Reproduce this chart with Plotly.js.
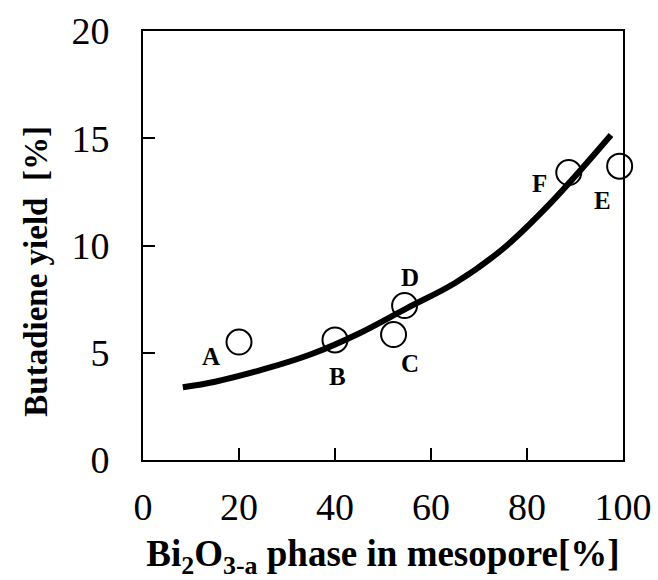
<!DOCTYPE html>
<html>
<head>
<meta charset="utf-8">
<script src="https://cdn.plot.ly/plotly-3.0.1.min.js"></script>
<style>
  html, body { margin: 0; padding: 0; background: #fff; }
  #chart { width: 658px; height: 580px; }
</style>
</head>
<body>
<div id="chart"></div>
<script>
// Measured samples: Bi2O3-a fraction in mesopores vs. butadiene yield
const sampleNames = ['A', 'B', 'C', 'D', 'F', 'E'];
const phaseFraction = [20, 40, 52.2, 54.5, 88.7, 99.3];
const butadieneYield = [5.5, 5.6, 5.85, 7.2, 13.4, 13.7];

// Trend curve traced through the samples
const trendX = [8.3, 15, 25, 35, 45, 55, 65, 75, 85, 97.5];
const trendY = [3.39, 3.65, 4.22, 4.93, 5.9, 7.08, 8.25, 9.85, 12.0, 15.15];

// Label placement around each marker (pixels; +y is up)
const labelShiftX = [-28, 2, 16, 5, -29, -17];
const labelShiftY = [-14, -37, -29, 28, -11, -34];

const serif = 'Liberation Serif, Times New Roman, serif';

const traces = [
  {
    x: trendX, y: trendY,
    mode: 'lines',
    line: { color: '#000', width: 6, shape: 'spline', smoothing: 1 },
    hoverinfo: 'skip',
    showlegend: false
  },
  {
    x: phaseFraction, y: butadieneYield,
    mode: 'markers',
    marker: { symbol: 'circle-open', size: 25, color: '#000', line: { width: 2, color: '#000' } },
    cliponaxis: false,
    showlegend: false
  }
];

const annotations = sampleNames.map((name, i) => ({
  x: phaseFraction[i], y: butadieneYield[i],
  xref: 'x', yref: 'y',
  text: '<b>' + name + '</b>',
  showarrow: false,
  xshift: labelShiftX[i], yshift: labelShiftY[i],
  font: { family: serif, size: 25, color: '#000' }
}));

// Y-axis title, set slightly below the axis centre
annotations.push({
  xref: 'paper', yref: 'paper',
  x: -0.222, y: 0.44,
  xanchor: 'center', yanchor: 'middle',
  textangle: -90,
  text: '<b>Butadiene yield&nbsp;&nbsp;[%]</b>',
  showarrow: false,
  font: { family: serif, size: 33, color: '#000' }
});

const layout = {
  width: 658, height: 580,
  margin: { l: 143, r: 35, t: 31, b: 120 },
  paper_bgcolor: '#fff', plot_bgcolor: '#fff',
  font: { family: serif, color: '#000' },
  xaxis: {
    range: [0, 100], dtick: 20, tick0: 0,
    ticks: 'inside', ticklen: 12, tickwidth: 2, tickcolor: '#000',
    showline: true, linecolor: '#000', linewidth: 2, mirror: true,
    showgrid: false, zeroline: false,
    tickfont: { family: serif, size: 38, color: '#000' },
    ticklabelstandoff: 12,
    title: {
      text: '<b>Bi<sub>2</sub>O<sub>3-a</sub> phase in mesopore[%]</b>',
      font: { family: serif, size: 37, color: '#000' },
      standoff: 17
    }
  },
  yaxis: {
    range: [0, 20], dtick: 5, tick0: 0,
    ticks: 'inside', ticklen: 12, tickwidth: 2, tickcolor: '#000',
    showline: true, linecolor: '#000', linewidth: 2, mirror: true,
    showgrid: false, zeroline: false,
    tickfont: { family: serif, size: 38, color: '#000' },
    ticklabelstandoff: 24
  },
  annotations: annotations,
  showlegend: false
};

Plotly.newPlot('chart', traces, layout, { staticPlot: true, displayModeBar: false });
</script>
</body>
</html>
